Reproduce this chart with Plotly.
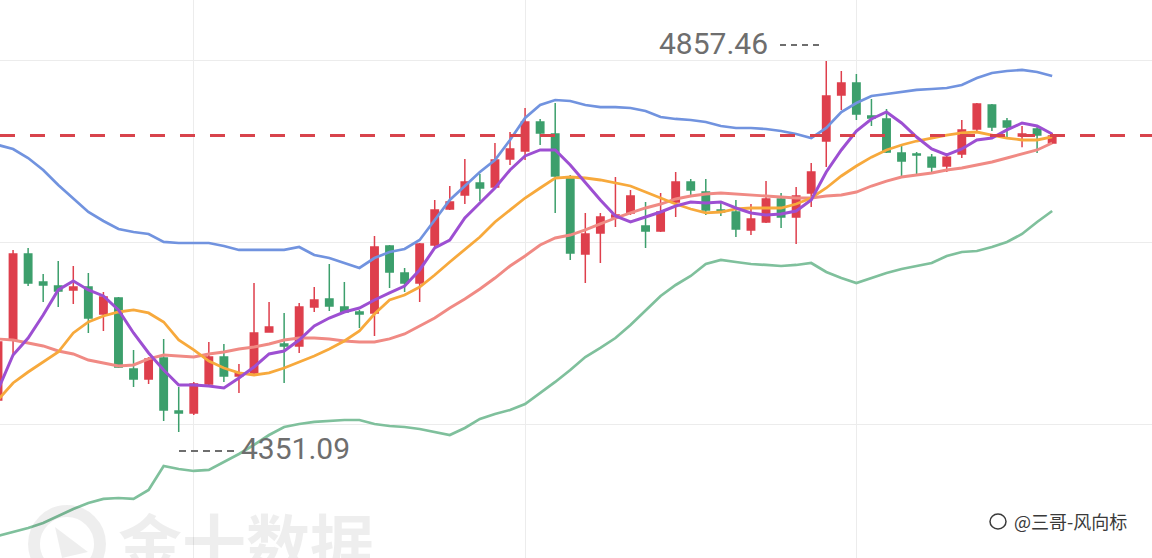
import plotly.graph_objects as go

# ---------------- data ----------------
idx = list(range(71))

opens = [4394.7, 4476.6, 4594.0, 4555.8, 4550.3, 4544.9, 4548.9, 4512.1, 4533.9, 4437.0,
         4423.4, 4452.0, 4379.7, 4377.0, 4416.5, 4453.4, 4427.5, 4431.6, 4487.5, 4471.1,
         4468.4, 4521.6, 4532.6, 4521.6, 4514.8, 4513.5, 4604.9, 4568.1, 4554.4, 4606.3,
         4655.4, 4674.5, 4690.9, 4685.4, 4723.7, 4734.6, 4774.2, 4757.8, 4697.7, 4594.0,
         4622.7, 4644.5, 4650.0, 4632.2, 4625.4, 4665.0, 4692.3, 4678.6, 4654.1, 4651.3,
         4626.8, 4637.7, 4669.1, 4644.5, 4677.3, 4748.2, 4811.0, 4827.4, 4782.4, 4778.3,
         4731.9, 4730.5, 4726.2, 4714.1, 4730.5, 4764.6, 4797.4, 4775.5, 4755.1, 4764.6,
         4745.5]
highs = [4476.6, 4599.5, 4602.2, 4566.7, 4584.4, 4577.6, 4568.1, 4542.1, 4535.3, 4463.0,
         4453.4, 4478.0, 4412.4, 4419.3, 4473.9, 4471.1, 4443.8, 4554.4, 4528.5, 4513.5,
         4527.1, 4548.9, 4580.3, 4555.8, 4517.6, 4618.6, 4606.3, 4574.9, 4609.0, 4667.7,
         4686.8, 4723.7, 4703.2, 4745.5, 4760.5, 4793.3, 4778.3, 4800.1, 4701.8, 4650.0,
         4650.0, 4699.1, 4681.4, 4665.0, 4677.3, 4705.9, 4696.4, 4696.4, 4665.0, 4667.7,
         4662.2, 4693.6, 4677.3, 4685.4, 4718.2, 4857.46, 4843.8, 4839.7, 4805.6, 4791.9,
         4742.8, 4733.2, 4730.5, 4731.9, 4776.9, 4800.1, 4798.7, 4779.6, 4768.7, 4767.3,
         4759.2]
lows = [4387.9, 4456.1, 4550.3, 4528.5, 4521.6, 4525.7, 4486.2, 4488.9, 4438.4, 4412.4,
        4416.5, 4366.0, 4351.09, 4374.2, 4415.0, 4419.3, 4404.3, 4430.2, 4486.5, 4417.9,
        4458.9, 4514.8, 4516.2, 4513.5, 4493.0, 4482.1, 4547.6, 4542.1, 4528.5, 4603.5,
        4654.1, 4662.2, 4666.3, 4684.1, 4715.5, 4722.3, 4742.8, 4650.0, 4585.8, 4554.4,
        4581.7, 4630.8, 4647.2, 4602.2, 4624.0, 4644.5, 4671.8, 4647.2, 4645.9, 4617.2,
        4620.0, 4636.3, 4629.5, 4607.6, 4658.1, 4712.7, 4790.6, 4776.9, 4768.7, 4731.9,
        4700.5, 4701.8, 4705.9, 4705.9, 4725.0, 4760.5, 4761.9, 4752.3, 4739.7, 4731.9,
        4744.1]
closes = [4473.9, 4594.0, 4554.4, 4551.7, 4543.5, 4548.9, 4506.6, 4535.3, 4439.7, 4423.4,
          4450.7, 4381.1, 4377.0, 4416.5, 4453.4, 4427.5, 4431.6, 4486.2, 4494.3, 4468.4,
          4521.6, 4531.2, 4523.0, 4514.8, 4512.1, 4603.5, 4569.4, 4554.4, 4607.6, 4654.1,
          4665.0, 4692.3, 4684.1, 4722.3, 4737.3, 4774.2, 4759.2, 4700.5, 4595.4, 4621.3,
          4644.5, 4647.2, 4673.2, 4625.4, 4651.3, 4692.3, 4681.4, 4654.1, 4651.3, 4628.1,
          4641.8, 4669.1, 4644.5, 4673.2, 4705.9, 4809.7, 4827.4, 4785.1, 4779.6, 4733.2,
          4720.9, 4729.1, 4712.7, 4726.2, 4763.3, 4798.7, 4767.3, 4767.3, 4757.8, 4756.4,
          4755.1]

boll_upper = [4742.8, 4737.3, 4725.0, 4708.7, 4688.2, 4670.4, 4651.3, 4639.0, 4628.1, 4624.0,
              4621.3, 4610.4, 4609.0, 4609.0, 4609.0, 4604.9, 4599.5, 4599.5, 4599.5, 4599.5,
              4603.5, 4592.6, 4588.5, 4581.7, 4574.9, 4588.5, 4596.7, 4600.8, 4613.1, 4640.4,
              4667.7, 4686.8, 4705.9, 4722.3, 4749.6, 4779.6, 4797.4, 4804.2, 4802.8, 4797.4,
              4794.6, 4794.6, 4793.3, 4789.2, 4781.0, 4778.3, 4776.9, 4774.2, 4768.7, 4766.0,
              4766.0, 4764.6, 4761.9, 4757.8, 4752.3, 4766.0, 4787.8, 4800.1, 4809.7, 4812.4,
              4815.1, 4817.9, 4819.2, 4820.6, 4824.7, 4834.2, 4841.1, 4843.8, 4845.2, 4842.4,
              4836.9]
boll_lower = [4209.1, 4214.5, 4220.0, 4226.8, 4236.4, 4245.9, 4254.1, 4259.6, 4260.9, 4259.6,
              4271.9, 4304.6, 4300.5, 4297.8, 4299.2, 4310.1, 4321.0, 4333.3, 4346.9, 4357.8,
              4361.9, 4364.7, 4366.0, 4367.4, 4367.4, 4361.9, 4359.2, 4357.8, 4355.1, 4351.0,
              4346.9, 4356.5, 4368.8, 4375.6, 4381.1, 4389.2, 4404.3, 4419.3, 4435.7, 4453.4,
              4465.7, 4479.3, 4497.1, 4517.6, 4536.7, 4551.7, 4564.0, 4580.3, 4585.8, 4583.1,
              4580.3, 4579.0, 4577.6, 4579.0, 4581.7, 4569.4, 4561.2, 4554.4, 4561.2, 4568.1,
              4573.5, 4577.6, 4581.7, 4591.3, 4596.7, 4598.1, 4603.5, 4610.4, 4621.3, 4637.7,
              4652.7]
ma5 = [4408.4, 4456.1, 4479.3, 4510.7, 4544.9, 4557.1, 4544.9, 4536.7, 4517.6, 4486.2,
       4458.9, 4435.7, 4415.2, 4415.2, 4413.8, 4411.1, 4424.7, 4439.7, 4457.5, 4461.6,
       4476.6, 4495.7, 4506.6, 4514.8, 4520.3, 4531.2, 4540.8, 4550.3, 4572.2, 4602.2,
       4613.1, 4643.1, 4663.6, 4684.1, 4708.7, 4727.8, 4736.0, 4736.0, 4715.5, 4690.9,
       4667.7, 4645.9, 4637.7, 4644.5, 4651.3, 4659.5, 4665.0, 4663.6, 4665.0, 4656.8,
       4650.0, 4647.2, 4648.6, 4652.7, 4667.7, 4705.9, 4736.0, 4761.9, 4778.3, 4787.8,
       4772.8, 4753.7, 4737.3, 4729.1, 4737.3, 4749.6, 4752.3, 4763.3, 4772.8, 4768.7,
       4757.8]
ma10 = [4394.7, 4417.9, 4432.9, 4446.6, 4460.2, 4486.2, 4501.2, 4509.4, 4514.8, 4517.6,
        4513.5, 4501.2, 4476.6, 4463.0, 4447.9, 4438.4, 4431.6, 4428.8, 4431.6, 4438.4,
        4446.6, 4454.8, 4464.3, 4475.2, 4488.9, 4512.1, 4531.2, 4538.0, 4548.9, 4565.3,
        4583.1, 4599.5, 4617.2, 4637.7, 4654.1, 4670.4, 4684.1, 4697.7, 4699.1, 4697.7,
        4695.0, 4690.9, 4686.8, 4678.6, 4670.4, 4662.2, 4655.4, 4650.0, 4651.3, 4655.4,
        4656.8, 4656.8, 4656.8, 4662.2, 4670.4, 4684.1, 4700.5, 4714.1, 4726.2, 4736.0,
        4742.8, 4748.2, 4752.3, 4756.4, 4759.2, 4760.5, 4756.4, 4752.3, 4749.6, 4749.6,
        4753.7]
ma20 = [4478.0, 4476.6, 4472.5, 4468.4, 4461.6, 4457.5, 4449.3, 4445.2, 4441.1, 4442.5,
        4450.7, 4456.1, 4454.8, 4453.4, 4457.5, 4460.2, 4464.3, 4467.0, 4471.1, 4476.6,
        4479.3, 4479.3, 4478.0, 4475.2, 4473.9, 4473.9, 4478.0, 4484.8, 4495.7, 4506.6,
        4520.3, 4532.6, 4546.2, 4561.2, 4577.6, 4591.3, 4606.3, 4615.8, 4619.9, 4626.8,
        4635.0, 4643.1, 4650.0, 4656.8, 4662.2, 4669.1, 4673.2, 4675.9, 4677.3, 4675.9,
        4674.5, 4673.2, 4671.8, 4670.4, 4670.4, 4673.2, 4674.5, 4678.6, 4686.8, 4693.6,
        4699.1, 4701.8, 4704.6, 4708.7, 4711.4, 4715.5, 4719.6, 4725.0, 4730.5, 4736.0,
        4745.5]

ref_level = 4755.7
watermark_text = "金十数据"
author_text = "@三哥-风向标"

# ---------------- figure ----------------
RED = "#de3f4c"
GREEN = "#3c9f6c"

fig = go.Figure()
fig.add_trace(go.Candlestick(
    x=idx, open=opens, high=highs, low=lows, close=closes,
    increasing=dict(line=dict(color=RED, width=1.5), fillcolor=RED),
    decreasing=dict(line=dict(color=GREEN, width=1.5), fillcolor=GREEN),
    whiskerwidth=0, showlegend=False, hoverinfo="skip",
))

line_specs = [
    (boll_upper, "#7193df", 2.7),
    (boll_lower, "#7fc09c", 2.7),
    (ma20, "#f08a84", 2.9),
    (ma10, "#f7a93c", 2.8),
    (ma5, "#9d4fd2", 3.0),
]
for vals, col, w in line_specs:
    fig.add_trace(go.Scatter(x=idx, y=vals, mode="lines",
                             line=dict(color=col, width=w),
                             showlegend=False, hoverinfo="skip"))

hi_val = max(highs)
lo_val = min(lows)

fig.add_shape(type="line", xref="paper", x0=0, x1=1, yref="y",
              y0=ref_level, y1=ref_level,
              line=dict(color="#d8434c", width=3, dash="15px,15px"))

# price labels
fig.add_annotation(text=f"{hi_val:.2f}", xref="paper", yref="paper",
                   x=657 / 1152, y=1 - 44 / 558, xanchor="left", yanchor="middle",
                   showarrow=False, font=dict(family="Roboto", size=30, color="#6e6e6e"))
fig.add_shape(type="line", xref="paper", yref="paper",
              x0=780 / 1152, x1=822 / 1152, y0=1 - 45 / 558, y1=1 - 45 / 558,
              line=dict(color="#6e6e6e", width=2, dash="6px,5px"))
fig.add_annotation(text=f"{lo_val:.2f}", xref="paper", yref="paper",
                   x=239 / 1152, y=1 - 448 / 558, xanchor="left", yanchor="middle",
                   showarrow=False, font=dict(family="Roboto", size=30, color="#6e6e6e"))
fig.add_shape(type="line", xref="paper", yref="paper",
              x0=179 / 1152, x1=238 / 1152, y0=1 - 451 / 558, y1=1 - 451 / 558,
              line=dict(color="#6e6e6e", width=2, dash="7px,5px"))

# watermark (very faint, partly below the bottom edge as in the source)
fig.add_annotation(text=f"<b>{watermark_text}</b>", xref="paper", yref="paper",
                   x=116 / 1152, y=1 - 492 / 558, xanchor="left", yanchor="top",
                   showarrow=False,
                   font=dict(family="Noto Sans CJK SC", size=64, color="rgba(0,0,0,0.065)"))
fig.add_shape(type="circle", xref="paper", yref="paper",
              x0=34 / 1152, x1=100 / 1152, y0=1 - 511 / 558, y1=1 - 577 / 558,
              line=dict(color="rgba(0,0,0,0.065)", width=12))
fig.add_shape(type="path", xref="paper", yref="paper",
              path=f"M {55/1152} {1-527/558} L {88/1152} {1-552/558} L {62/1152} {1-558/558} Z",
              fillcolor="rgba(0,0,0,0.065)", line=dict(width=0))

# author mark
fig.add_annotation(text=author_text, xref="paper", yref="paper",
                   x=1012 / 1152, y=1 - 521 / 558, xanchor="left", yanchor="middle",
                   showarrow=False,
                   font=dict(family="Noto Sans CJK SC", size=18, color="#3a3a3a"))
fig.add_shape(type="circle", xref="paper", yref="paper",
              x0=990 / 1152, x1=1006 / 1152, y0=1 - 514 / 558, y1=1 - 529 / 558,
              line=dict(color="#3a3a3a", width=1.5))

fig.update_layout(
    width=1152, height=558,
    margin=dict(l=0, r=0, t=0, b=0),
    paper_bgcolor="white", plot_bgcolor="white",
    boxgap=0.3,
    xaxis=dict(range=[0.133, 76.63], rangeslider=dict(visible=False),
               showgrid=True, gridcolor="#ececec", gridwidth=1,
               tick0=13, dtick=22, showticklabels=False, zeroline=False,
               showline=False, ticks=""),
    yaxis=dict(range=[4179.0, 4940.7], showgrid=True, gridcolor="#ececec", gridwidth=1,
               tick0=4361.9, dtick=248.45, showticklabels=False, zeroline=False,
               showline=False, ticks=""),
)

fig.write_html("out.html", config={"displayModeBar": False},
               post_script="document.body.style.margin='0';document.body.style.overflow='hidden';")
